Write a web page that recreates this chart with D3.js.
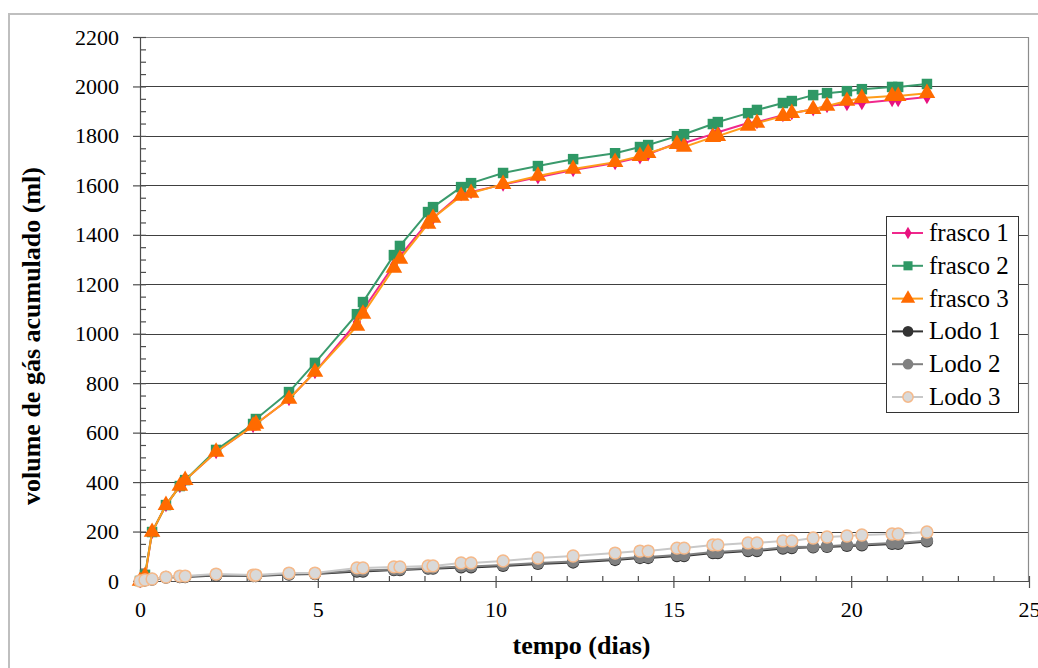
<!DOCTYPE html>
<html>
<head>
<meta charset="utf-8">
<script src="https://cdn.jsdelivr.net/npm/d3@7"></script>
<style>
  body { margin: 0; background: #fff; }
  svg { display: block; }
  svg text { font-family: "Liberation Serif", "Times New Roman", serif; }
</style>
</head>
<body>
<div id="chart"></div>
<script>
// sampling times (dias) shared by every series
var tempo = [0, 0.14, 0.34, 0.73, 1.12, 1.27, 2.14, 3.18, 3.26, 4.19, 4.92, 6.1, 6.27, 7.14, 7.31,
  8.1, 8.24, 9.03, 9.31, 10.21, 11.19, 12.18, 13.36, 14.06, 14.29, 15.1, 15.3, 16.11, 16.25,
  17.1, 17.35, 18.08, 18.33, 18.93, 19.32, 19.88, 20.3, 21.15, 21.32, 22.13];

var frasco1 = [0, 15, 198, 307, 384, 408, 522, 627, 635, 736, 845, 1047, 1096, 1278, 1314,
  1452, 1468, 1565, 1573, 1603, 1633, 1662, 1690, 1714, 1726, 1771, 1771, 1807, 1815,
  1852, 1856, 1884, 1892, 1908, 1921, 1929, 1933, 1945, 1945, 1957];
var frasco2 = [0, 25, 198, 307, 384, 408, 530, 635, 655, 764, 882, 1079, 1128, 1318, 1355,
  1492, 1512, 1593, 1609, 1650, 1678, 1706, 1730, 1755, 1763, 1799, 1807, 1848, 1856,
  1892, 1905, 1933, 1941, 1965, 1973, 1981, 1989, 1998, 1998, 2010];
var frasco3 = [0, 20, 198, 307, 384, 408, 522, 627, 635, 736, 845, 1031, 1080, 1266, 1302,
  1444, 1468, 1557, 1569, 1605, 1638, 1666, 1694, 1718, 1730, 1767, 1755, 1795, 1799,
  1840, 1852, 1880, 1892, 1908, 1921, 1941, 1953, 1961, 1961, 1973];
var lodo1 = [0, 3, 6, 14, 16, 16, 22, 20, 20, 26, 28, 38, 38, 44, 44,
  50, 50, 55, 55, 61, 69, 75, 85, 93, 93, 101, 101, 113, 113,
  121, 121, 131, 133, 136, 138, 142, 144, 150, 150, 160];
var lodo2 = [0, 4, 8, 16, 18, 18, 24, 22, 22, 28, 30, 42, 42, 47, 47,
  53, 53, 59, 59, 65, 73, 79, 89, 97, 97, 105, 105, 117, 117,
  125, 125, 135, 137, 139, 141, 146, 148, 154, 154, 164];
var lodo3 = [0, 4, 8, 16, 20, 20, 28, 24, 24, 32, 32, 53, 53, 57, 57,
  61, 61, 73, 73, 81, 93, 101, 113, 121, 121, 133, 133, 146, 146,
  154, 154, 162, 162, 174, 178, 182, 186, 190, 190, 198];

var seriesNames = ["frasco 1", "frasco 2", "frasco 3", "Lodo 1", "Lodo 2", "Lodo 3"];
var xTicks = [0, 5, 10, 15, 20, 25];
var yTicks = [0, 200, 400, 600, 800, 1000, 1200, 1400, 1600, 1800, 2000, 2200];

function init() {
  var W = 1038, H = 668;
  var margin = {left: 140, top: 37, right: 9, bottom: 87};
  var width = 1029 - margin.left,
      height = 581 - margin.top;

  var svg = d3.select("#chart").append("svg")
    .attr("width", W).attr("height", H);

  // outer chart frame
  svg.append("rect")
    .attr("x", 9).attr("y", 14)
    .attr("width", W + 20).attr("height", H + 20)
    .attr("fill", "none").attr("stroke", "#bfbfbf").attr("stroke-width", 2);

  var g = svg.append("g")
    .attr("transform", "translate(" + margin.left + "," + margin.top + ")");

  var x = d3.scaleLinear().domain([0, 25]).range([0, width]);
  var y = d3.scaleLinear().domain([0, 2200]).range([height, 0]);

  // gridlines
  g.append("g")
    .selectAll("line")
    .data(yTicks.filter(function(d) { return d > 0 && d < 2200; }))
    .enter().append("line")
    .attr("x1", 0).attr("x2", width)
    .attr("y1", function(d) { return Math.round(y(d)) + 0.5; })
    .attr("y2", function(d) { return Math.round(y(d)) + 0.5; })
    .attr("stroke", "#404040").attr("stroke-width", 1);

  // plot border (top and right)
  g.append("path")
    .attr("d", "M0,0.5H" + (width - 0.5) + "V" + height)
    .attr("fill", "none").attr("stroke", "#8c8c8c").attr("stroke-width", 1.2);

  // y axis: minor ticks inside, major ticks outside
  var yMinor = d3.range(0, 2201, 50);
  g.append("g")
    .attr("class", "axis")
    .call(d3.axisRight(y).tickValues(yMinor).tickSize(6).tickFormat(""))
    .call(function(s) { s.select(".domain").remove(); });
  g.append("g")
    .attr("class", "axis ylab")
    .call(d3.axisLeft(y).tickValues(yTicks).tickSize(7).tickPadding(14)
      .tickSizeOuter(0).tickFormat(d3.format("d")));

  // x axis
  g.append("g")
    .attr("class", "axis")
    .attr("transform", "translate(0," + height + ")")
    .call(d3.axisTop(x).tickValues(d3.range(0, 26, 1)).tickSize(5).tickFormat(""))
    .call(function(s) { s.select(".domain").remove(); });
  g.append("g")
    .attr("class", "axis xlab")
    .attr("transform", "translate(0," + height + ")")
    .call(d3.axisBottom(x).tickValues(xTicks).tickSize(7).tickPadding(13)
      .tickSizeOuter(0).tickFormat(d3.format("d")));

  svg.selectAll(".axis")
    .attr("font-family", null).attr("font-size", null);
  svg.selectAll(".axis path, .axis line")
    .attr("stroke", "#4d4d4d").attr("stroke-width", 1.2);
  svg.selectAll(".axis text")
    .style("font-family", "'Liberation Serif', 'Times New Roman', serif")
    .style("font-size", "22px").attr("fill", "#000");

  // axis titles
  svg.append("text")
    .attr("x", margin.left + width / 2 - 3).attr("y", 654)
    .attr("text-anchor", "middle")
    .style("font-weight", "bold").style("font-size", "26px")
    .text("tempo (dias)");
  svg.append("text")
    .attr("transform", "translate(40," + 336 + ") rotate(-90)")
    .attr("text-anchor", "middle")
    .style("font-weight", "bold").style("font-size", "26px")
    .text("volume de gás acumulado (ml)");

  var values = [frasco1, frasco2, frasco3, lodo1, lodo2, lodo3];
  var lineColor = ["#f0288c", "#3a9a6c", "#ff9c1a", "#333333", "#808080", "#c8c8c8"];
  var fillColor = ["#e8127f", "#2e9865", "#ff6a00", "#333333", "#808080", "#d9d9d9"];
  var strokeColor = [null, null, null, null, null, "#f5b98a"];
  var shape = [d3.symbolDiamond, d3.symbolSquare, d3.symbolTriangle, d3.symbolCircle, d3.symbolCircle, d3.symbolCircle];
  var size = [60, 110, 120, 120, 120, 110];

  var line = d3.line()
    .x(function(d) { return x(d[0]); })
    .y(function(d) { return y(d[1]); });

  values.forEach(function(vals, i) {
    var pts = tempo.map(function(t, k) { return [t, vals[k]]; });
    var sg = g.append("g");
    sg.append("path")
      .datum(pts)
      .attr("d", line)
      .attr("fill", "none")
      .attr("stroke", lineColor[i])
      .attr("stroke-width", 2);
    sg.selectAll("path.pt")
      .data(pts)
      .enter().append("path")
      .attr("class", "pt")
      .attr("transform", function(d) { return "translate(" + x(d[0]) + "," + y(d[1]) + ")"; })
      .attr("d", d3.symbol().type(shape[i]).size(size[i]))
      .attr("fill", fillColor[i])
      .attr("stroke", strokeColor[i] || "none")
      .attr("stroke-width", strokeColor[i] ? 1.5 : 0);
  });

  // legend
  var leg = svg.append("g").attr("transform", "translate(886,216)");
  leg.append("rect")
    .attr("x", 0.5).attr("y", 0.5)
    .attr("width", 132).attr("height", 196)
    .attr("fill", "#fff").attr("stroke", "#333").attr("stroke-width", 1);
  var items = leg.selectAll("g.item")
    .data(seriesNames)
    .enter().append("g")
    .attr("class", "item")
    .attr("transform", function(d, i) { return "translate(0," + (17 + i * 32.8) + ")"; });
  items.append("line")
    .attr("x1", 6).attr("x2", 37)
    .attr("stroke", function(d, i) { return lineColor[i]; })
    .attr("stroke-width", 2);
  items.append("path")
    .attr("transform", "translate(22,0)")
    .attr("d", function(d, i) { return d3.symbol().type(shape[i]).size(size[i] * 0.75)(); })
    .attr("fill", function(d, i) { return fillColor[i]; })
    .attr("stroke", function(d, i) { return strokeColor[i] || "none"; })
    .attr("stroke-width", 1.5);
  items.append("text")
    .attr("x", 43).attr("y", 8)
    .style("font-size", "25px")
    .text(function(d) { return d; });
}
window.onload = init;
</script>
</body>
</html>
